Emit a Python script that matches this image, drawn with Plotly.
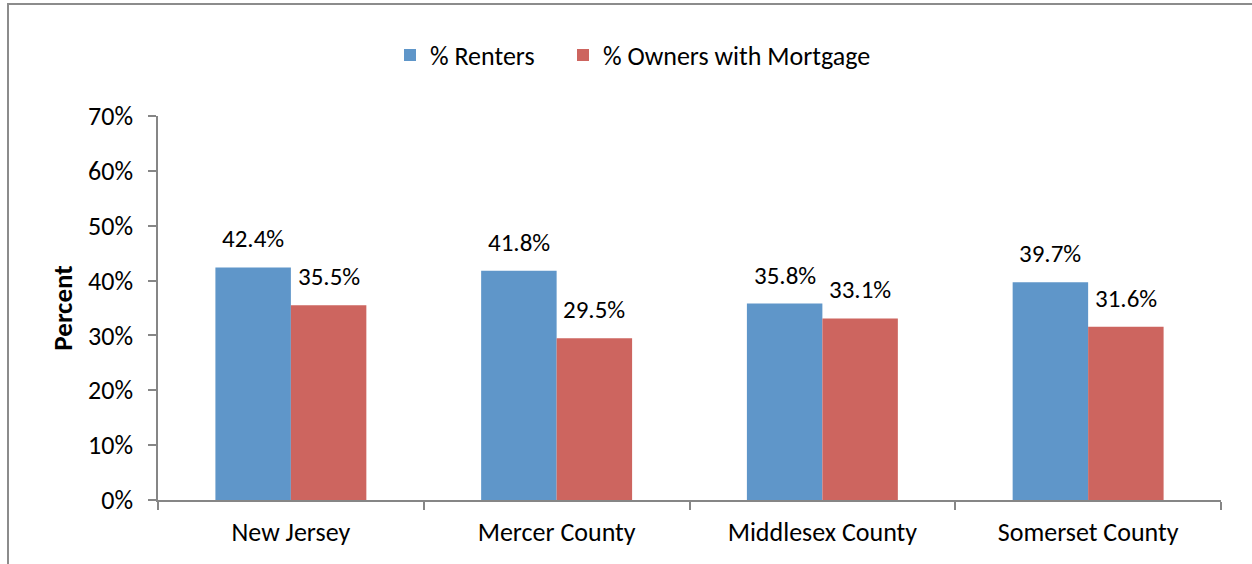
import plotly.graph_objects as go

categories = ["New Jersey", "Mercer County", "Middlesex County", "Somerset County"]
renters = [42.4, 41.8, 35.8, 39.7]
owners = [35.5, 29.5, 33.1, 31.6]
series_names = ["% Renters", "% Owners with Mortgage"]
y_tickvals = [0, 10, 20, 30, 40, 50, 60, 70]
y_ticktext = [f"{v}%" for v in y_tickvals]

BLUE = "#5f96c9"
RED = "#cd655f"
GRAY = "#868686"
FONT = "Carlito, Lato, Liberation Sans, sans-serif"

W, H = 1252, 564
L, R, T, B = 158, 31, 116, 64
pw = W - L - R
ph = H - T - B

fig = go.Figure()
fig.add_trace(go.Bar(x=categories, y=renters, name=series_names[0], legend="legend",
                     marker=dict(color=BLUE, line=dict(width=0))))
fig.add_trace(go.Bar(x=categories, y=owners, name=series_names[1], legend="legend2",
                     marker=dict(color=RED, line=dict(width=0))))

bar_px = pw / len(categories) * (1 - 0.432) / 2
for vals, sign in ((renters, -1), (owners, 1)):
    for c, v in zip(categories, vals):
        fig.add_annotation(x=c, y=v, xref="x", yref="y", text=f"{v:.1f}%",
                           showarrow=False, xshift=sign * bar_px / 2,
                           yanchor="bottom", yshift=11,
                           font=dict(family=FONT, size=25, color="#000000"))

def px_to_paper_x(px):
    return (px - L) / pw

def px_to_paper_y(py):
    return (H - B - py) / ph

# outer frame of the chart area
fig.add_shape(type="rect", xref="paper", yref="paper",
              x0=px_to_paper_x(8), x1=px_to_paper_x(W + 20),
              y0=px_to_paper_y(H + 20), y1=px_to_paper_y(4),
              line=dict(color="#8c8c8c", width=2), layer="below")

legend_common = dict(orientation="h", xanchor="left",
                     y=px_to_paper_y(55), yanchor="middle",
                     font=dict(family=FONT, size=26, color="#000000"),
                     itemwidth=30, tracegroupgap=0,
                     bgcolor="rgba(0,0,0,0)")

fig.update_layout(
    width=W, height=H,
    margin=dict(l=L, r=R, t=T, b=B, autoexpand=False),
    paper_bgcolor="white", plot_bgcolor="white",
    barmode="group", bargap=0.432, bargroupgap=0,
    font=dict(family=FONT, size=26, color="#000000"),
    showlegend=True,
    legend=dict(x=px_to_paper_x(390), **legend_common),
    legend2=dict(x=px_to_paper_x(563), **legend_common),
    xaxis=dict(type="category", tickson="boundaries", ticks="outside",
               ticklen=8, tickcolor=GRAY, tickwidth=1.5,
               showline=True, linecolor=GRAY, linewidth=1.5,
               showgrid=False, zeroline=False, ticklabelstandoff=8,
               tickfont=dict(family=FONT, size=26, color="#000000")),
    yaxis=dict(range=[0, 70], tickvals=y_tickvals, ticktext=y_ticktext,
               ticks="outside", ticklen=8, tickcolor=GRAY, tickwidth=1.5,
               showline=True, linecolor=GRAY, linewidth=1.5,
               showgrid=False, zeroline=False, ticklabelstandoff=10,
               tickfont=dict(family=FONT, size=26, color="#000000"),
               title=dict(text="<b>Percent</b>", standoff=8,
                          font=dict(family=FONT, size=27, color="#000000"))),
)

fig.write_html("out.html", config={"displayModeBar": False},
               post_script="document.body.style.margin='0';")
